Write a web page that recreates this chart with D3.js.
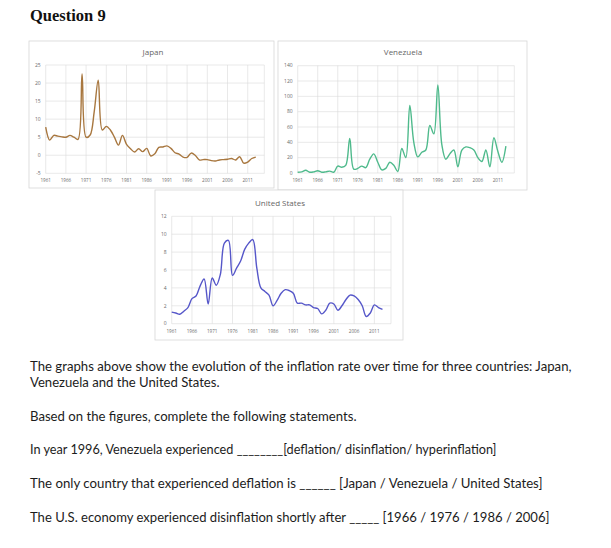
<!DOCTYPE html>
<html>
<head>
<meta charset="utf-8">
<script src="https://cdn.jsdelivr.net/npm/d3@7"></script>
<style>
  body { margin: 0; background: #fff; }
</style>
</head>
<body>
<svg id="page" width="611" height="548"></svg>
<script>
// Categories and tick labels
const years = [1961, 1962, 1963, 1964, 1965, 1966, 1967, 1968, 1969, 1970,
  1971, 1972, 1973, 1974, 1975, 1976, 1977, 1978, 1979, 1980,
  1981, 1982, 1983, 1984, 1985, 1986, 1987, 1988, 1989, 1990,
  1991, 1992, 1993, 1994, 1995, 1996, 1997, 1998, 1999, 2000,
  2001, 2002, 2003, 2004, 2005, 2006, 2007, 2008, 2009, 2010,
  2011, 2012, 2013];
const yearTicks = [1961, 1966, 1971, 1976, 1981, 1986, 1991, 1996, 2001, 2006, 2011];
const japanTicks = [-5, 0, 5, 10, 15, 20, 25];
const venezuelaTicks = [0, 20, 40, 60, 80, 100, 120, 140];
const usTicks = [0, 2, 4, 6, 8, 10, 12];

// Inflation rates (%)
const japanRates = [7.8, 4.2, 5.5, 5.3, 5.1, 5.0, 5.5, 5.0, 4.4, 22.5,
  5.0, 5.6, 12.0, 20.8, 7.0, 8.0, 7.0, 5.0, 2.8, 5.5,
  3.0, 1.8, 0.9, 1.8, 1.0, 1.9, -0.2, 0.4, 2.2, 2.3,
  2.6, 1.9, 0.7, 0.3, -0.5, -0.6, 0.6, 0.0, -1.3, -1.2,
  -1.2, -1.5, -1.6, -1.3, -1.2, -1.1, -0.9, -1.3, -0.4, -2.2,
  -1.9, -0.9, -0.5];
const venezuelaRates = [1, 1.5, 3.5, 1, 1.5, 3, 1, 1.5, 2.5, 1,
  9, 7.5, 10, 45, 5, 6, 9, 7, 18, 25,
  14, 4, 6, 14, 10, 2, 32, 20, 88, 40,
  21, 27, 30, 62, 51, 115, 37, 18, 25, 30,
  8, 30, 34, 33, 30, 20, 15, 30, 8, 46,
  28, 14, 35];
const usRates = [1.3, 1.2, 1.05, 1.4, 1.8, 2.8, 3.1, 4.2, 5.0, 2.2,
  5.1, 4.3, 5.5, 9.0, 9.3, 5.4, 6.2, 7.0, 8.3, 9.0,
  9.4, 6.2, 4.0, 3.6, 3.2, 2.0, 2.6, 3.4, 3.8, 3.7,
  3.4, 2.3, 2.3, 2.1, 2.1, 1.8, 1.7, 1.1, 1.5, 2.3,
  2.2, 1.5, 2.0, 2.7, 3.2, 3.1, 2.7, 2.0, 0.8, 1.2,
  2.1, 1.8, 1.6];

const questionTitle = 'Question 9';
const bodyLines = [
  'The graphs above show the evolution of the inflation rate over time for three countries: Japan,',
  'Venezuela and the United States.',
  'Based on the figures, complete the following statements.',
  'In year 1996, Venezuela experienced ________[deflation/ disinflation/ hyperinflation]',
  'The only country that experienced deflation is ______ [Japan / Venezuela / United States]',
  'The U.S. economy experienced disinflation shortly after _____ [1966 / 1976 / 1986  / 2006]'
];

const svg = d3.select('#page');
const chartFont = "'Open Sans', 'Noto Sans', sans-serif";
const gridColor = '#dadada';
const labelColor = '#6a6a6a';

svg.append('rect').attr('width', 611).attr('height', 548).attr('fill', '#fff');

// Question heading
svg.append('text')
  .attr('x', 30).attr('y', 21)
  .attr('font-family', "'Liberation Serif', 'Times New Roman', serif")
  .attr('font-weight', 'bold')
  .attr('font-size', 16.5)
  .attr('fill', '#111')
  .text(questionTitle);

const drawPanel = (p) => {
  const g = svg.append('g');

  // chart frame
  g.append('rect')
    .attr('x', p.box[0]).attr('y', p.box[1])
    .attr('width', p.box[2]).attr('height', p.box[3])
    .attr('fill', '#fff')
    .attr('stroke', '#d6d6d6')
    .attr('stroke-width', 0.8);

  const x = d3.scaleLinear().domain([1961, 2015.1]).range([p.left, p.right]);
  const y = d3.scaleLinear().domain(d3.extent(p.ticks)).range([p.bottom, p.top]);

  // horizontal gridlines + y labels
  g.append('g').selectAll('line')
    .data(p.ticks)
    .join('line')
    .attr('x1', p.left).attr('x2', p.right)
    .attr('y1', d => y(d)).attr('y2', d => y(d))
    .attr('stroke', gridColor).attr('stroke-width', 0.6);

  g.append('g').selectAll('text')
    .data(p.ticks)
    .join('text')
    .attr('x', p.left - 5)
    .attr('y', d => y(d))
    .attr('dy', '0.35em')
    .attr('text-anchor', 'end')
    .attr('font-family', chartFont)
    .attr('font-size', 5)
    .attr('fill', labelColor)
    .text(d => d);

  // vertical gridlines + year labels
  g.append('g').selectAll('line')
    .data(yearTicks.concat([2015.1]))
    .join('line')
    .attr('x1', d => x(d)).attr('x2', d => x(d))
    .attr('y1', p.top).attr('y2', p.bottom)
    .attr('stroke', gridColor).attr('stroke-width', 0.6);

  g.append('g').selectAll('text')
    .data(yearTicks)
    .join('text')
    .attr('x', d => x(d))
    .attr('y', p.labelY)
    .attr('text-anchor', 'middle')
    .attr('font-family', chartFont)
    .attr('font-size', 4.6)
    .attr('fill', labelColor)
    .text(d => d);

  // title
  g.append('text')
    .attr('x', p.titleX).attr('y', p.titleY)
    .attr('text-anchor', 'middle')
    .attr('font-family', chartFont)
    .attr('font-size', 8)
    .attr('fill', '#666')
    .text(p.title);

  // smoothed series line
  const line = d3.line()
    .x((d, i) => x(years[i]))
    .y(d => y(d))
    .curve(d3.curveCatmullRom.alpha(0.5));

  g.append('path')
    .datum(p.values)
    .attr('d', line)
    .attr('fill', 'none')
    .attr('stroke', p.color)
    .attr('stroke-width', 1.4)
    .attr('stroke-linejoin', 'round');
};

drawPanel({
  title: 'Japan', values: japanRates, ticks: japanTicks, color: '#a8773f',
  box: [29, 41, 245, 147], left: 45.7, right: 264.3, top: 65, bottom: 173.3,
  labelY: 181.8, titleX: 153, titleY: 54.5
});

drawPanel({
  title: 'Venezuela', values: venezuelaRates, ticks: venezuelaTicks, color: '#4fba8c',
  box: [278, 41, 249, 149], left: 297.7, right: 514.3, top: 65.7, bottom: 173,
  labelY: 181.8, titleX: 403, titleY: 55
});

drawPanel({
  title: 'United States', values: usRates, ticks: usTicks, color: '#5657c9',
  box: [155, 190, 248, 150], left: 171.7, right: 391, top: 216.3, bottom: 323.7,
  labelY: 332.5, titleX: 280, titleY: 205.5
});

// question text
const lineLayout = [
  { y: 370.5, size: 13.6, width: 541.5 },
  { y: 387, size: 13.6, width: 189.5 },
  { y: 421, size: 13.6, width: 326.5 },
  { y: 454.3, size: 12.4, width: 466.5 },
  { y: 487.7, size: 13.6, width: 512.5 },
  { y: 521.7, size: 13.6, width: 519.5 }
];

svg.append('g').selectAll('text')
  .data(bodyLines)
  .join('text')
  .attr('x', 30)
  .attr('y', (d, i) => lineLayout[i].y)
  .attr('font-family', "Lato, 'Open Sans', sans-serif")
  .attr('font-size', (d, i) => lineLayout[i].size)
  .attr('fill', '#1c1c1c')
  .attr('textLength', (d, i) => lineLayout[i].width)
  .attr('lengthAdjust', 'spacingAndGlyphs')
  .text(d => d);
</script>
</body>
</html>
